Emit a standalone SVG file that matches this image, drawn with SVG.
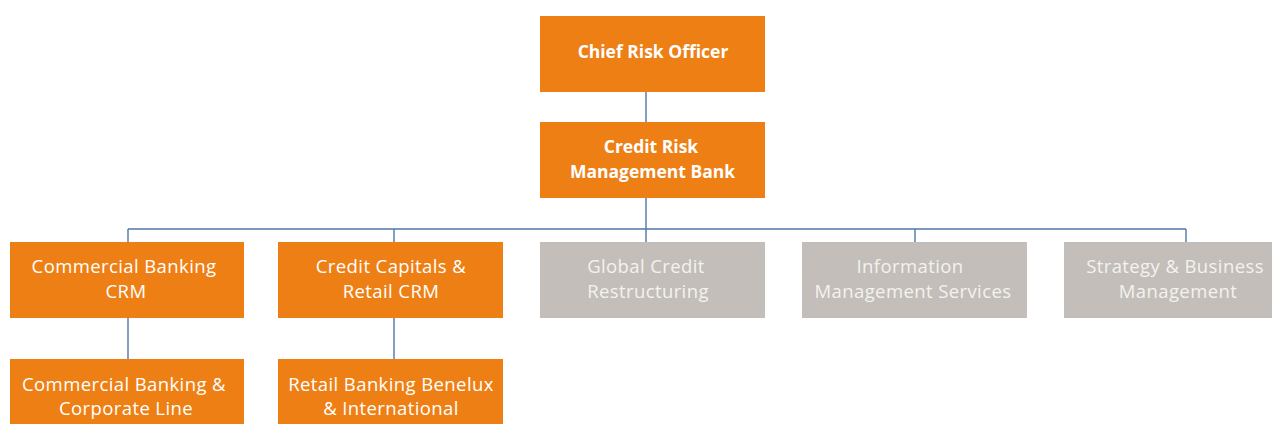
<svg xmlns="http://www.w3.org/2000/svg" width="1272" height="424" viewBox="0 0 1272 424">
<style>
.o{fill:#ee7f15}
.g{fill:#c3beb9}
text{font-family:"Open Sans","Noto Sans","Liberation Sans",sans-serif;font-size:18.5px;letter-spacing:0.4px;text-anchor:middle;fill:#ffffff}
.b{font-weight:bold;font-size:17.5px;letter-spacing:0}
.gt{fill:#f4f2ef}
.c{stroke:#4f78a6;stroke-width:1.4;fill:none}
</style>
<rect width="1272" height="424" fill="#ffffff"/>
<g id="connectors">
<path class="c" d="M646 91V122M646 198V229M128 229H1186M128 229V242M394 229V242M646 229V242M915 229V242M1186 229V242M128 317V359M394 317V359"/>
</g>
<g id="cro"><rect class="o" x="540" y="16" width="225" height="76"/><text class="b" x="653" y="58">Chief Risk Officer</text></g>
<g id="crmb"><rect class="o" x="540" y="122" width="225" height="76"/><text class="b" x="651" y="153">Credit Risk</text><text class="b" x="652.5" y="178">Management Bank</text></g>
<g id="cbcrm"><rect class="o" x="10" y="242" width="234" height="76"/><text x="124" y="273">Commercial Banking</text><text x="126" y="298">CRM</text></g>
<g id="ccrcrm"><rect class="o" x="278" y="242" width="225" height="76"/><text x="391" y="273">Credit Capitals &amp;</text><text x="391" y="298">Retail CRM</text></g>
<g id="gcr"><rect class="g" x="540" y="242" width="225" height="76"/><text class="gt" x="646" y="273">Global Credit</text><text class="gt" x="648" y="298">Restructuring</text></g>
<g id="ims"><rect class="g" x="802" y="242" width="225" height="76"/><text class="gt" x="910" y="273">Information</text><text class="gt" x="913" y="298">Management Services</text></g>
<g id="sbm"><rect class="g" x="1064" y="242" width="225" height="76"/><text class="gt" x="1175" y="273">Strategy &amp; Business</text><text class="gt" x="1178" y="298">Management</text></g>
<g id="cbcl"><rect class="o" x="10" y="359" width="234" height="66"/><text x="124" y="391">Commercial Banking &amp;</text><text x="126" y="415">Corporate Line</text></g>
<g id="rbbi"><rect class="o" x="278" y="359" width="225" height="66"/><text x="391" y="391">Retail Banking Benelux</text><text x="391" y="415">&amp; International</text></g>
</svg>
